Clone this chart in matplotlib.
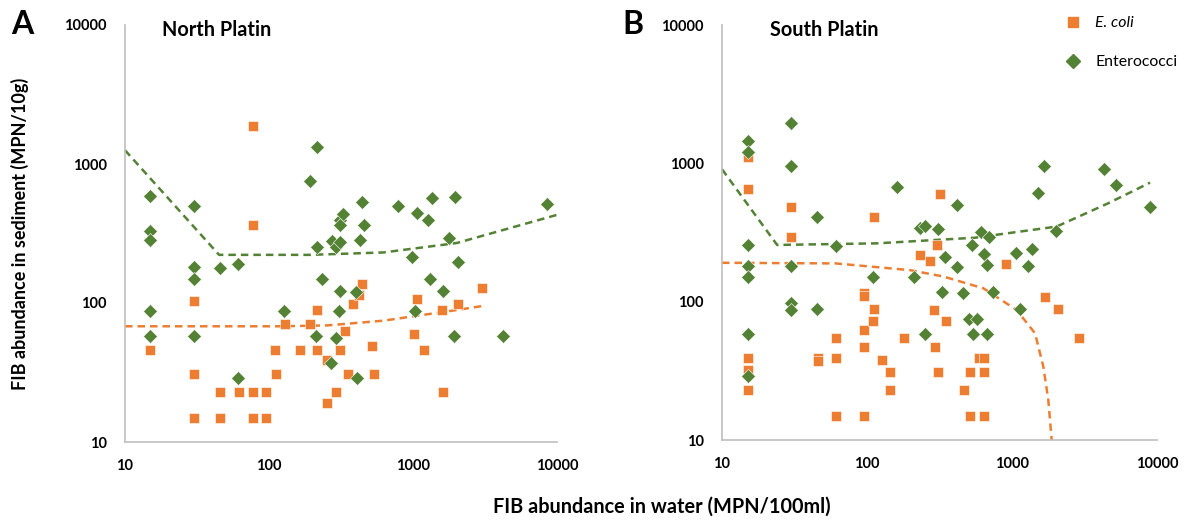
import matplotlib
matplotlib.use("Agg")
import matplotlib.pyplot as plt
from matplotlib.lines import Line2D

plt.rcParams['font.family'] = ['Lato', 'DejaVu Sans']

ORANGE = '#ED7D31'
GREEN = '#548235'
AXCOL = '#BFBFBF'

# ---------------- Panel A: North Platin ----------------
north_ecoli_water = [77, 77, 30, 15, 30, 30, 46, 46, 62, 77, 77, 95, 95, 110, 112, 129, 164,
                     194, 216, 216, 254, 254, 292, 311, 337, 356, 383, 420, 445, 517, 536,
                     1011, 1071, 1198, 1583, 1607, 2042, 3013]
north_ecoli_sed = [1874, 367, 103, 46, 31, 15, 23, 15, 23, 23, 15, 23, 15, 46, 31, 71, 46,
                   71, 89, 46, 39, 19, 23, 46, 63, 31, 98, 114, 136, 49, 31,
                   60, 106, 46, 89, 23, 98, 128]
north_ent_water = [15, 15, 15, 15, 15, 30, 30, 30, 30, 46, 61, 61, 127, 194, 216, 216, 232,
                   213, 270, 274, 293, 311, 311, 328, 311, 311, 305, 293, 400, 410, 429, 455,
                   445, 787, 1071, 1271, 1355, 1967, 1770, 979, 2042, 1312, 1607, 1032, 1935,
                   4198, 8570]
north_ent_sed = [584, 332, 285, 87, 58, 498, 182, 148, 58, 180, 191, 29, 87, 759, 1330, 252, 148,
                 58, 37, 281, 254, 276, 396, 438, 365, 121, 87, 56, 119, 29, 285, 365,
                 529, 498, 443, 396, 571, 580, 292, 215, 196, 148, 121, 87, 58,
                 58, 517]
north_ecoli_trend_x = [10, 120, 254, 622, 1119, 2010, 3013]
north_ecoli_trend_y = [68, 68, 69, 74.6, 81.5, 89, 95]
north_ent_trend_x = [10, 45, 194, 622, 2010, 9950]
north_ent_trend_y = [1256, 222, 222, 231, 270, 430]

# ---------------- Panel B: South Platin ----------------
south_ecoli_water = [15, 15, 15, 15, 15, 30, 30, 46, 46, 61, 61, 61, 95, 95, 95, 95, 95, 111, 111,
                     110, 127, 144, 144, 180, 232, 272, 304, 317, 288, 295, 310, 352, 464, 516,
                     516, 589, 638, 638, 638, 910, 1698, 2076, 2884]
south_ecoli_sed = [1119, 656, 39, 32, 23, 481, 294, 39, 37, 55, 39, 15, 116, 109, 62, 47, 15, 412, 89,
                   72, 38, 31, 23, 55, 216, 196, 258, 598, 87, 47, 31, 72, 23, 31,
                   15, 39, 39, 31, 15, 188, 108, 89, 55]
south_ent_water = [30, 15, 15, 30, 15, 15, 15, 15, 15, 30, 30, 30, 45, 45, 61, 110, 161, 212, 232,
                   251, 250, 310, 347, 329, 416, 416, 457, 530, 611, 698, 641, 670, 508, 576,
                   540, 670, 743, 1066, 1367, 1295, 1135, 1518, 1671, 2002, 4310, 5240, 8950]
south_ent_sed = [1950, 1445, 1216, 962, 256, 182, 150, 58, 29, 182, 97, 87, 412, 89, 253, 150, 679, 150, 339,
                 355, 58, 336, 211, 118, 500, 178, 115, 256, 319, 295, 220, 184, 75, 75,
                 58, 58, 118, 224, 242, 182, 89, 608, 962, 323, 906, 698, 481]
south_ecoli_trend_x = [10, 61, 198, 336, 634, 1077, 1442, 1644, 1780, 1878]
south_ecoli_trend_y = [191, 189, 169, 152, 125, 87, 59, 34, 19.5, 10]
south_ent_trend_x = [10, 24, 117, 556, 2030, 4600, 8950]
south_ent_trend_y = [906, 257, 264, 290, 349, 514, 725]

ticks = [10, 100, 1000, 10000]
tick_labels = ['10', '100', '1000', '10000']
panel_titles = ['North Platin', 'South Platin']
panel_letters = ['A', 'B']
legend_labels = ['E. coli', 'Enterococci']
xlabel = 'FIB abundance in water (MPN/100ml)'
ylabel = 'FIB abundance in sediment (MPN/10g)'

W, H = 1188, 521
fig = plt.figure(figsize=(W / 100, H / 100), dpi=100)

def frac(l, t, r, b):
    return [l / W, 1 - b / H, (r - l) / W, (b - t) / H]

axA = fig.add_axes(frac(125, 25, 557, 442))
axB = fig.add_axes(frac(722, 25, 1157, 440))

def style(ax):
    ax.set_xscale('log')
    ax.set_yscale('log')
    ax.set_xlim(10, 10000)
    ax.set_ylim(10, 10000)
    ax.set_xticks(ticks)
    ax.set_xticklabels(tick_labels)
    ax.set_yticks(ticks)
    ax.set_yticklabels(tick_labels)
    ax.minorticks_off()
    ax.tick_params(length=0, labelsize=10.5, pad=12)
    ax.tick_params(axis='y', pad=13)
    for lab in ax.get_xticklabels() + ax.get_yticklabels():
        lab.set_fontweight('bold')
    for s in ['top', 'right']:
        ax.spines[s].set_visible(False)
    for s in ['left', 'bottom']:
        ax.spines[s].set_color(AXCOL)
        ax.spines[s].set_linewidth(1.2)
    ax.patch.set_alpha(0)

def draw(ax, ew, es, gw, gs, etx, ety, gtx, gty):
    ax.plot(gtx, gty, color=GREEN, lw=1.8, ls=(0, (3, 2)), zorder=2, clip_on=False)
    ax.plot(etx, ety, color=ORANGE, lw=1.8, ls=(0, (3, 2)), zorder=2, clip_on=False)
    ax.plot(ew, es, ls='none', marker='s', ms=7.4, color=ORANGE, mec='white', mew=0.4, zorder=3, clip_on=False)
    ax.plot(gw, gs, ls='none', marker='D', ms=6.8, color=GREEN, mec='white', mew=0.4, zorder=4, clip_on=False)

style(axA)
style(axB)
draw(axA, north_ecoli_water, north_ecoli_sed, north_ent_water, north_ent_sed,
     north_ecoli_trend_x, north_ecoli_trend_y, north_ent_trend_x, north_ent_trend_y)
draw(axB, south_ecoli_water, south_ecoli_sed, south_ent_water, south_ent_sed,
     south_ecoli_trend_x, south_ecoli_trend_y, south_ent_trend_x, south_ent_trend_y)

fig.text(162 / W, 1 - 30 / H, panel_titles[0], fontsize=14.3, fontweight='bold', va='center', ha='left')
fig.text(770 / W, 1 - 30 / H, panel_titles[1], fontsize=14.3, fontweight='bold', va='center', ha='left')
fig.text(22 / W, 1 - 24 / H, panel_letters[0], fontsize=23, fontweight='bold', va='center', ha='center')
fig.text(633 / W, 1 - 25 / H, panel_letters[1], fontsize=23, fontweight='bold', va='center', ha='center')

fig.text(662 / W, 1 - 507 / H, xlabel, fontsize=14.3, fontweight='bold', va='center', ha='center')
fig.text(20 / W, 1 - 234 / H, ylabel, fontsize=13, fontweight='bold', va='center', ha='center', rotation=90)

# legend
handles = [Line2D([], [], ls='none', marker='s', ms=7.4, color=ORANGE),
           Line2D([], [], ls='none', marker='D', ms=6.8, color=GREEN)]
leg = fig.legend(handles, legend_labels, loc='upper left', bbox_to_anchor=(1063.5 / W, 1 - 16 / H),
                 frameon=False, fontsize=11.4, handlelength=1.2, handletextpad=0.8,
                 labelspacing=1.6, borderaxespad=0, borderpad=0)
leg.get_texts()[0].set_fontstyle('italic')

fig.savefig('out.png', dpi=100)
